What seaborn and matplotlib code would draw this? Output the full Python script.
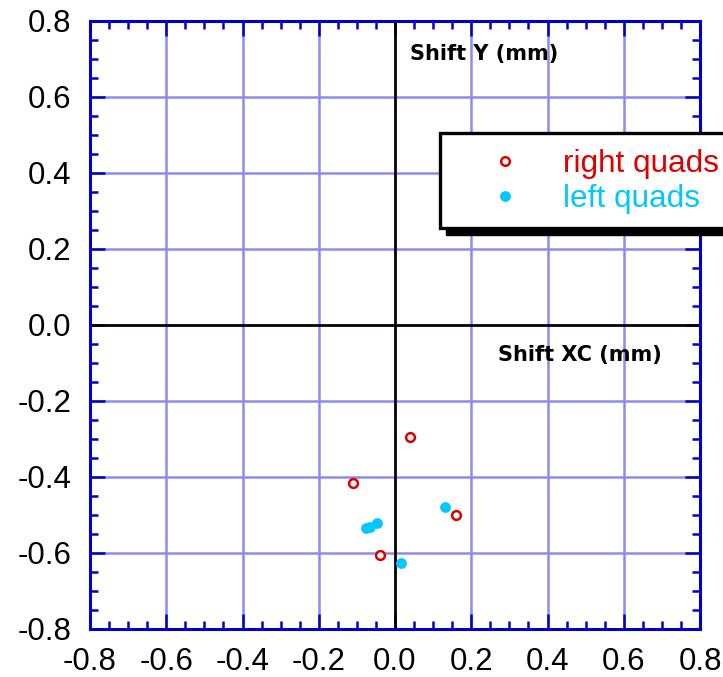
import matplotlib
matplotlib.use("Agg")
import matplotlib.pyplot as plt
from matplotlib.patches import Rectangle
from matplotlib.lines import Line2D
from matplotlib.ticker import MultipleLocator
import seaborn as sns
import pandas as pd

# ---- data ----
right_x = [0.039, -0.110, 0.159, -0.040]
right_y = [-0.295, -0.415, -0.499, -0.605]
left_x = [0.131, -0.046, -0.075, -0.066, 0.017]
left_y = [-0.478, -0.520, -0.534, -0.532, -0.626]
series_labels = ["right quads", "left quads"]
tick_values = [-0.8, -0.6, -0.4, -0.2, 0.0, 0.2, 0.4, 0.6, 0.8]
x_title = "Shift XC (mm)"
y_title = "Shift Y (mm)"

RED = "#dd0000"
CYAN = "#00c8ff"
AXBLUE = "#0000cc"
GRID = "#8c8cec"

sns.set_theme(style="white")
plt.rcParams["font.family"] = ["Liberation Sans", "DejaVu Sans"]

tick_family = ["Liberation Sans", "DejaVu Sans"]
tick_size = 22.5

W, H = 723, 677
fig = plt.figure(figsize=(W / 100, H / 100), dpi=100)
L, R, T, B = 90, 700, 21, 629
ax = fig.add_axes([L / W, 1 - B / H, (R - L) / W, (B - T) / H])

df_r = pd.DataFrame({"x": right_x, "y": right_y})
df_l = pd.DataFrame({"x": left_x, "y": left_y})

sns.scatterplot(data=df_r, x="x", y="y", ax=ax, marker="o", s=40,
                facecolor="white", edgecolor=RED, linewidth=1.8, zorder=5)
sns.scatterplot(data=df_l, x="x", y="y", ax=ax, marker="o", s=60,
                color=CYAN, edgecolor=CYAN, linewidth=0, zorder=5)

ax.set_xlim(-0.8, 0.8)
ax.set_ylim(-0.8, 0.8)
ax.set_xlabel("")
ax.set_ylabel("")
ax.set_xticks(tick_values)
ax.set_yticks(tick_values)
ax.set_xticklabels([f"{v:.1f}" for v in tick_values], family=tick_family, size=tick_size)
ax.set_yticklabels([f"{v:.1f}" for v in tick_values], family=tick_family, size=tick_size)
ax.xaxis.set_minor_locator(MultipleLocator(0.05))
ax.yaxis.set_minor_locator(MultipleLocator(0.05))

ax.grid(True, which="major", color=GRID, linewidth=1.8, zorder=0)
ax.set_axisbelow(True)
ax.axhline(0, color="black", linewidth=1.9, zorder=2)
ax.axvline(0, color="black", linewidth=1.9, zorder=2)

for sp in ax.spines.values():
    sp.set_visible(True)
    sp.set_color(AXBLUE)
    sp.set_linewidth(2.2)

ax.tick_params(which="both", direction="in", top=True, right=True,
               bottom=True, left=True, color=AXBLUE, width=1.8,
               labelcolor="black")
ax.tick_params(which="major", length=11)
ax.tick_params(which="minor", length=6)
ax.tick_params(axis="x", which="major", pad=13)
ax.tick_params(axis="y", which="major", pad=13.5)

ax.text(0.039, 0.712, y_title, ha="left", va="center", fontsize=15,
        fontweight="bold", family="DejaVu Sans", color="black", zorder=6)
ax.text(0.270, -0.078, x_title, ha="left", va="center", fontsize=15,
        fontweight="bold", family="DejaVu Sans", color="black", zorder=6)

# legend box with solid black shadow
bx0, by0, bx1, by1 = 440, 133, 780, 228
fig.patches.append(Rectangle(((bx0 + 6) / W, 1 - (by1 + 7) / H), (bx1 - bx0) / W,
                             (by1 - by0) / H, transform=fig.transFigure,
                             facecolor="black", edgecolor="black", zorder=8))
fig.patches.append(Rectangle((bx0 / W, 1 - by1 / H), (bx1 - bx0) / W,
                             (by1 - by0) / H, transform=fig.transFigure,
                             facecolor="white", edgecolor="black",
                             linewidth=2.4, zorder=9))

handles = [
    Line2D([], [], linestyle="none", marker="o", markersize=6.2,
           markerfacecolor="white", markeredgecolor=RED, markeredgewidth=1.8),
    Line2D([], [], linestyle="none", marker="o", markersize=7.8,
           markerfacecolor=CYAN, markeredgecolor=CYAN, markeredgewidth=0),
]
leg_size = 22.7
leg = fig.legend(handles, series_labels, loc="upper left",
                 bbox_to_anchor=(473.5 / W, 1 - 149 / H),
                 bbox_transform=fig.transFigure, frameon=False,
                 borderpad=0, borderaxespad=0,
                 handlelength=2.0, handletextpad=0.84, labelspacing=0.17,
                 prop={"family": ["Liberation Sans", "DejaVu Sans"], "size": leg_size})
leg.set_zorder(10)
for t, c in zip(leg.get_texts(), [RED, CYAN]):
    t.set_color(c)

fig.savefig("out.png", dpi=100)
